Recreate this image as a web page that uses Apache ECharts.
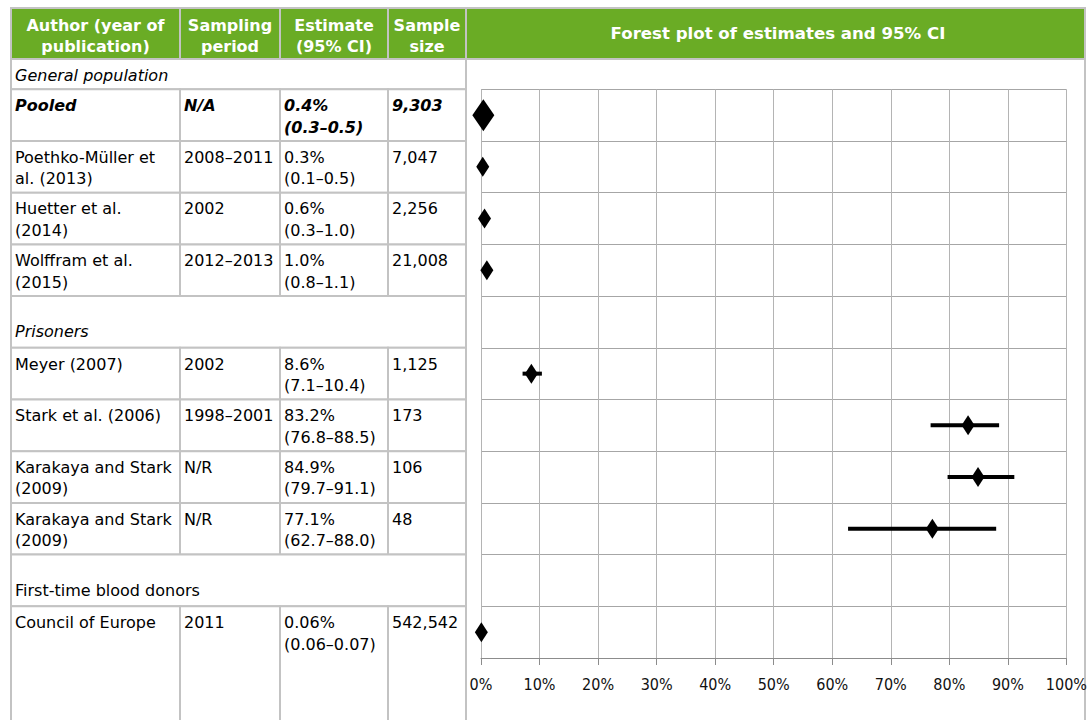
<!DOCTYPE html>
<html><head><meta charset="utf-8">
<script src="https://cdn.jsdelivr.net/npm/echarts@6/dist/echarts.min.js"></script>
<style>html,body{margin:0;padding:0;background:#fff}#c{width:1090px;height:720px}</style>
</head><body><div id="c"></div>
<script>
// ---------- data ----------
const headers = ['Author (year of\npublication)', 'Sampling\nperiod', 'Estimate\n(95% CI)', 'Sample\nsize'];
const plotTitle = 'Forest plot of estimates and 95% CI';
const firstGroup = 'General population';
const authors = ['Pooled', 'Poethko-Müller et\nal. (2013)', 'Huetter et al.\n(2014)', 'Wolffram et al.\n(2015)',
  'Prisoners', 'Meyer (2007)', 'Stark et al. (2006)', 'Karakaya and Stark\n(2009)', 'Karakaya and Stark\n(2009)',
  'First-time blood donors', 'Council of Europe'];
const rowKinds = ['pooled', 'study', 'study', 'study', 'group', 'study', 'study', 'study', 'study', 'group', 'study'];
const periods = ['N/A', '2008–2011', '2002', '2012–2013', '', '2002', '1998–2001', 'N/R', 'N/R', '', '2011'];
const estimates = [0.4, 0.3, 0.6, 1.0, null, 8.6, 83.2, 84.9, 77.1, null, 0.06];
const ciLow = [0.3, 0.1, 0.3, 0.8, null, 7.1, 76.8, 79.7, 62.7, null, 0.06];
const ciHigh = [0.5, 0.5, 1.0, 1.1, null, 10.4, 88.5, 91.1, 88.0, null, 0.07];
const sampleSizes = [9303, 7047, 2256, 21008, null, 1125, 173, 106, 48, null, 542542];
const xTickLabels = ['0%', '10%', '20%', '30%', '40%', '50%', '60%', '70%', '80%', '90%', '100%'];
const italicGroups = ['Prisoners'];

// ---------- layout / style ----------
const COLS = [11, 180, 280, 388, 466];
const FONT = '"DejaVu Sans", Verdana, sans-serif';
const GREEN = '#6aac25';
const BORDER = '#c3c3c3';
const TOP = 89.3, BOTTOM = 62;

const fmt = v => v < 0.1 ? v.toFixed(2) : v.toFixed(1);
const estLabel = i => estimates[i] == null ? '' : fmt(estimates[i]) + '%\n(' + fmt(ciLow[i]) + '–' + fmt(ciHigh[i]) + ')';
const sizeLabel = i => sampleSizes[i] == null ? '' : sampleSizes[i].toLocaleString('en-US');

function txt(text, x, y, font, align, valign, fill) {
  return {type: 'text', style: {text, x, y, font, fill: fill || '#000', align, verticalAlign: valign,
    textAlign: align, textVerticalAlign: valign, lineHeight: 21.5}};
}

function renderTableRow(params, api) {
  const i = api.value(1);
  const yc = api.coord([0, i])[1];
  const h = api.size([0, 1])[1];
  const top = yc - h / 2;
  const height = (i === authors.length - 1) ? api.getHeight() - top + 6 : h;
  const kind = rowKinds[i];
  const children = [];
  const cellStyle = {stroke: BORDER, lineWidth: 2, fill: '#fff'};
  if (kind === 'group') {
    children.push({type: 'rect', shape: {x: COLS[0], y: top, width: COLS[4] - COLS[0], height}, style: cellStyle});
    const f = (italicGroups.includes(authors[i]) ? 'italic ' : '') + '16px ' + FONT;
    children.push(txt(authors[i], COLS[0] + 4, top + height - 16, f, 'left', 'middle'));
  } else {
    const texts = [authors[i], periods[i], estLabel(i), sizeLabel(i)];
    const f = (kind === 'pooled' ? 'italic bold ' : '') + '16px ' + FONT;
    for (let c = 0; c < 4; c++) {
      children.push({type: 'rect', shape: {x: COLS[c], y: top, width: COLS[c + 1] - COLS[c], height}, style: cellStyle});
    }
    for (let c = 0; c < 4; c++) {
      children.push(txt(texts[c], COLS[c] + 4, top + 5.5, f, 'left', 'top'));
    }
  }
  return {type: 'group', children};
}

function renderCI(params, api) {
  const i = api.value(2);
  const p1 = api.coord([api.value(0), i]);
  const p2 = api.coord([api.value(1), i]);
  return {type: 'line', shape: {x1: p1[0], y1: p1[1], x2: p2[0], y2: p2[1]},
    style: {stroke: '#000', lineWidth: 4, lineCap: 'butt'}};
}

const rowIdx = authors.map((_, i) => i);
const tableData = rowIdx.map(i => [0.5, i]);
const ciData = rowIdx.filter(i => estimates[i] != null).map(i => [ciLow[i], ciHigh[i], i]);
const pointData = rowIdx.filter(i => estimates[i] != null).map(i => [estimates[i], i]);

// header graphics
const graphics = [];
graphics.push({type: 'rect', z: 0, shape: {x: 466, y: 8, width: 619, height: 760},
  style: {fill: 'none', stroke: BORDER, lineWidth: 2}});
for (let c = 0; c < 4; c++) {
  graphics.push({type: 'rect', z: 1, shape: {x: COLS[c], y: 8, width: COLS[c + 1] - COLS[c], height: 51},
    style: {fill: GREEN, stroke: BORDER, lineWidth: 2}});
  graphics.push({type: 'text', z: 2, style: {text: headers[c], x: (COLS[c] + COLS[c + 1]) / 2, y: 35.5,
    font: 'bold 16px ' + FONT, fill: '#fff', align: 'center', verticalAlign: 'middle',
    textAlign: 'center', textVerticalAlign: 'middle', lineHeight: 21}});
}
graphics.push({type: 'rect', z: 1, shape: {x: 466, y: 8, width: 619, height: 51},
  style: {fill: GREEN, stroke: BORDER, lineWidth: 2}});
graphics.push({type: 'text', z: 2, style: {text: plotTitle, x: 778, y: 33,
  font: 'bold 16.6px ' + FONT, fill: '#fff', align: 'center', verticalAlign: 'middle',
  textAlign: 'center', textVerticalAlign: 'middle'}});
graphics.push({type: 'rect', z: 1, shape: {x: COLS[0], y: 59, width: COLS[4] - COLS[0], height: TOP - 59},
  style: {fill: '#fff', stroke: BORDER, lineWidth: 2}});
graphics.push({type: 'text', z: 2, style: {text: firstGroup, x: COLS[0] + 4, y: 75,
  font: 'italic 16px ' + FONT, fill: '#000', align: 'left', verticalAlign: 'middle',
  textAlign: 'left', textVerticalAlign: 'middle'}});

const chart = echarts.init(document.getElementById('c'), null, {renderer: 'svg'});
chart.setOption({
  backgroundColor: '#fff',
  animation: false,
  graphic: {elements: graphics},
  grid: [
    {left: COLS[0], right: 1090 - COLS[4], top: TOP, bottom: BOTTOM, show: false},
    {left: 481, right: 20.7, top: TOP, bottom: BOTTOM, show: false}
  ],
  xAxis: [
    {gridIndex: 0, type: 'value', min: 0, max: 1, show: false},
    {gridIndex: 1, type: 'value', min: 0, max: 100, interval: 10,
      axisLine: {show: true, lineStyle: {color: '#8c8c8c', width: 1}},
      axisTick: {show: true, length: 7, lineStyle: {color: '#8c8c8c'}},
      axisLabel: {formatter: v => xTickLabels[Math.round(v / 10)], color: '#111', fontSize: 16,
        fontFamily: '"DejaVu Sans Condensed", sans-serif', margin: 18},
      splitLine: {show: true, lineStyle: {color: '#b4b4b4', width: 1}}}
  ],
  yAxis: [
    {gridIndex: 0, type: 'category', data: rowIdx, inverse: true, show: false},
    {gridIndex: 1, type: 'category', data: rowIdx, inverse: true,
      axisLine: {show: false}, axisTick: {show: false}, axisLabel: {show: false},
      splitLine: {show: true, interval: 0, lineStyle: {color: '#a6a6a6', width: 1}}}
  ],
  series: [
    {type: 'custom', xAxisIndex: 0, yAxisIndex: 0, data: tableData, renderItem: renderTableRow,
      clip: false, silent: true, z: 1},
    {type: 'custom', xAxisIndex: 1, yAxisIndex: 1, data: ciData, renderItem: renderCI,
      encode: {x: [0, 1], y: 2}, silent: true, z: 3},
    {type: 'scatter', xAxisIndex: 1, yAxisIndex: 1, data: pointData, symbol: 'diamond',
      symbolSize: (v) => rowKinds[v[1]] === 'pooled' ? [22, 32] : [13, 20],
      itemStyle: {color: '#000', opacity: 1}, silent: true, z: 4}
  ]
});
</script>
</body></html>
